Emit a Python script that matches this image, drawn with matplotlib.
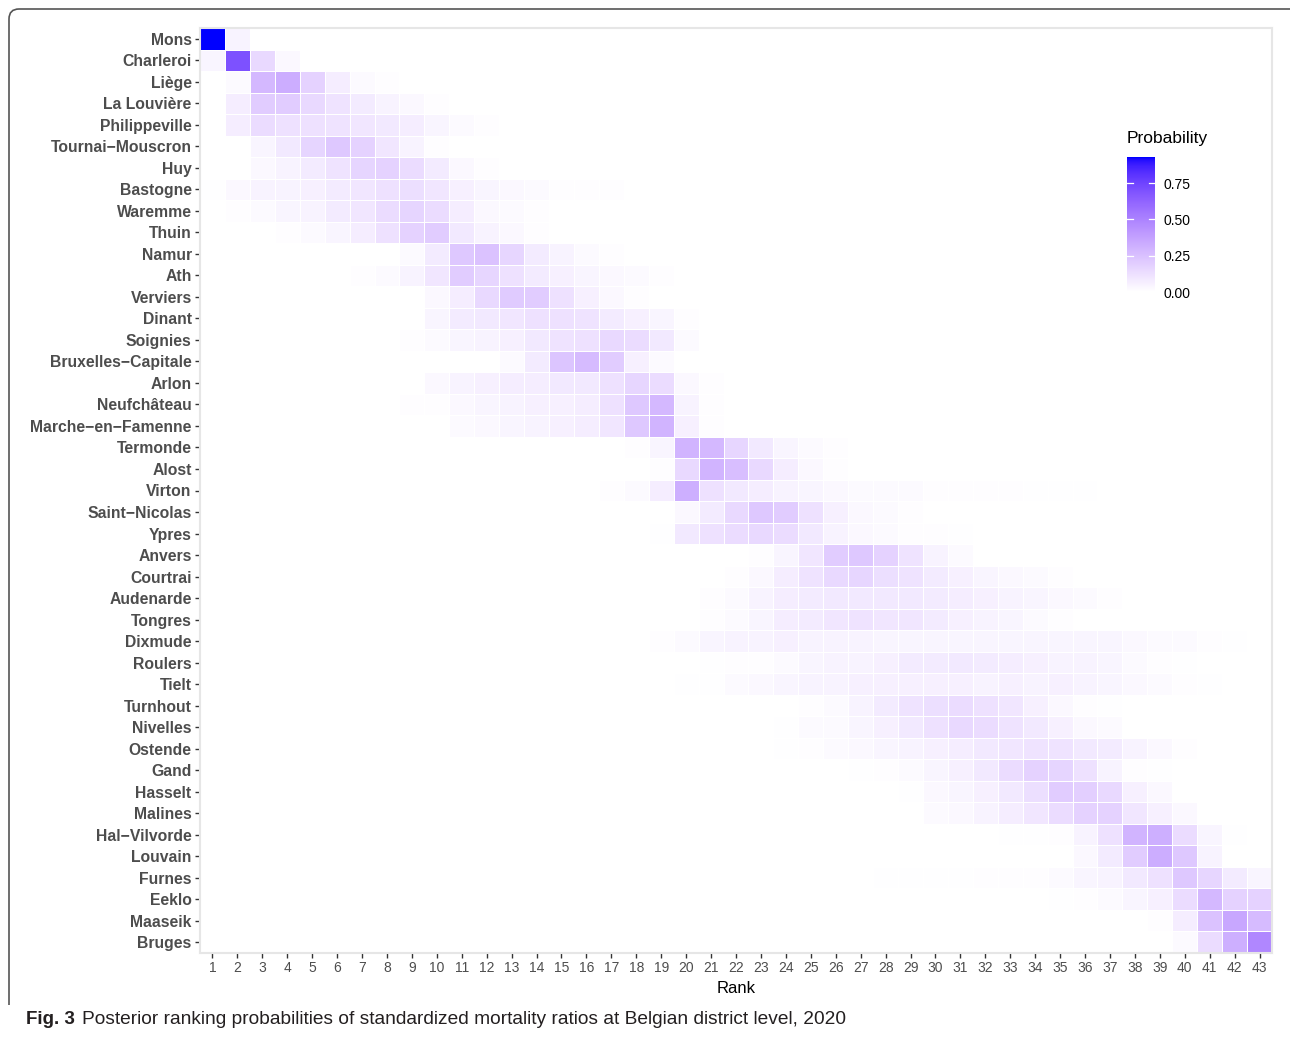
import numpy as np
import matplotlib
matplotlib.use("Agg")
import matplotlib.pyplot as plt
from matplotlib.colors import ListedColormap
from matplotlib.path import Path
from matplotlib.patches import PathPatch

plt.rcParams['font.family'] = ['Liberation Sans', 'DejaVu Sans']

# ---- data: posterior ranking probabilities (percent), each row = (first rank, values)
districts = ['Mons', 'Charleroi', 'Liège', 'La Louvière', 'Philippeville',
             'Tournai\u2212Mouscron', 'Huy', 'Bastogne', 'Waremme', 'Thuin', 'Namur',
             'Ath', 'Verviers', 'Dinant', 'Soignies', 'Bruxelles\u2212Capitale', 'Arlon',
             'Neufchâteau', 'Marche\u2212en\u2212Famenne', 'Termonde', 'Alost', 'Virton',
             'Saint\u2212Nicolas', 'Ypres', 'Anvers', 'Courtrai', 'Audenarde', 'Tongres',
             'Dixmude', 'Roulers', 'Tielt', 'Turnhout', 'Nivelles', 'Ostende', 'Gand',
             'Hasselt', 'Malines', 'Hal\u2212Vilvorde', 'Louvain', 'Furnes', 'Eeklo',
             'Maaseik', 'Bruges']
ranks = list(range(1, 44))

p_mons = (1, [93, 5])
p_charleroi = (1, [4, 70, 15, 3])
p_liege = (2, [2, 28, 33, 18, 7, 2, 1])
p_lalouviere = (2, [7, 20, 20, 15, 11, 8, 5, 3, 1])
p_philippeville = (2, [7, 14, 12, 12, 11, 10, 9, 7, 4, 2, 1])
p_tournai = (3, [4, 9, 17, 22, 18, 10, 5, 1])
p_huy = (3, [3, 5, 8, 11, 17, 18, 14, 8, 3, 1])
p_bastogne = (1, [0.5, 3, 5, 5, 6, 8, 10, 12, 13, 10, 6, 4, 3, 2, 1, 1, 1])
p_waremme = (2, [1, 2, 4, 5, 8, 10, 14, 17, 14, 7, 3, 2, 1])
p_thuin = (4, [1, 2, 4, 7, 12, 18, 20, 9, 5, 3, 1])
p_namur = (9, [2, 8, 22, 24, 16, 8, 5, 2, 1])
p_ath = (7, [1, 2, 5, 10, 20, 16, 12, 8, 6, 4, 3, 2, 1])
p_verviers = (10, [3, 7, 15, 21, 20, 12, 6, 3, 1])
p_dinant = (10, [4, 8, 9, 10, 12, 12, 11, 8, 6, 4, 1])
p_soignies = (9, [1, 2, 4, 5, 6, 9, 11, 12, 15, 14, 9, 2])
p_bruxelles = (13, [2, 8, 23, 27, 20, 6, 2])
p_arlon = (10, [3, 5, 6, 7, 7, 9, 9, 12, 16, 14, 3, 1])
p_neufchateau = (9, [1, 1, 3, 4, 5, 6, 6, 7, 12, 22, 28, 5, 1])
p_marche = (11, [2, 3, 4, 5, 6, 7, 10, 22, 30, 6, 1])
p_termonde = (18, [1, 4, 30, 28, 16, 9, 4, 2, 1])
p_alost = (19, [1, 15, 30, 26, 15, 7, 3, 1])
p_virton = (17, [1, 2, 7, 32, 12, 9, 7, 5, 4, 3, 2, 2, 2, 1, 1, 1, 1, 0.5, 0.5, 0.5])
p_saintnicolas = (20, [3, 8, 15, 22, 20, 12, 6, 3, 2, 1])
p_ypres = (19, [0.5, 9, 12, 14, 15, 14, 9, 5, 3, 2, 1, 1, 0.5])
p_anvers = (23, [1, 4, 10, 20, 22, 18, 11, 5, 2])
p_courtrai = (22, [1, 3, 7, 11, 15, 16, 13, 11, 8, 6, 4, 3, 2, 1])
p_audenarde = (21, [1, 2, 5, 7, 8, 9, 9, 9, 9, 8, 7, 6, 5, 4, 3, 2, 1])
p_tongres = (21, [1, 2, 4, 7, 8, 10, 11, 10, 10, 8, 6, 5, 4, 2, 1])
p_dixmude = (19, [1, 2, 4, 5, 5, 6, 5, 5, 5, 4, 4, 4, 4, 4, 4, 4, 4, 4, 4, 3, 2, 2, 1, 0.5])
p_roulers = (21, [0.5, 1, 1, 2, 4, 5, 5, 6, 8, 8, 9, 8, 7, 6, 5, 5, 4, 2, 1, 0.5])
p_tielt = (20, [0.5, 0.5, 2, 3, 4, 5, 5, 6, 6, 6, 6, 6, 5, 6, 5, 6, 5, 4, 3, 2, 1, 0.5])
p_turnhout = (25, [1, 2, 5, 8, 11, 13, 14, 12, 10, 6, 3, 1, 0.5])
p_nivelles = (24, [0.5, 2, 2, 4, 6, 9, 12, 15, 14, 11, 9, 6, 3, 2])
p_ostende = (24, [0.5, 1, 2, 3, 4, 5, 6, 7, 9, 10, 11, 11, 9, 8, 5, 3, 1])
p_gand = (27, [0.5, 1, 2, 4, 6, 9, 14, 18, 17, 12, 5, 1, 0.5])
p_hasselt = (29, [0.5, 3, 4, 6, 9, 13, 20, 19, 15, 6, 3])
p_malines = (30, [2, 3, 5, 7, 10, 14, 18, 18, 10, 6, 3])
p_halvilvorde = (33, [0.5, 0.5, 1, 5, 12, 30, 32, 14, 4, 0.5])
p_louvain = (36, [3, 8, 20, 33, 22, 5])
p_furnes = (28, [0.5, 0.5, 0.5, 0.5, 1, 1, 1, 2, 4, 5, 9, 12, 22, 16, 8, 4])
p_eeklo = (35, [0.5, 1, 2, 4, 6, 14, 28, 18, 18])
p_maaseik = (39, [1, 7, 24, 35, 27])
p_bruges = (40, [2, 14, 32, 48])

district_rows = [p_mons, p_charleroi, p_liege, p_lalouviere, p_philippeville, p_tournai,
                 p_huy, p_bastogne, p_waremme, p_thuin, p_namur, p_ath, p_verviers,
                 p_dinant, p_soignies, p_bruxelles, p_arlon, p_neufchateau, p_marche,
                 p_termonde, p_alost, p_virton, p_saintnicolas, p_ypres, p_anvers,
                 p_courtrai, p_audenarde, p_tongres, p_dixmude, p_roulers, p_tielt,
                 p_turnhout, p_nivelles, p_ostende, p_gand, p_hasselt, p_malines,
                 p_halvilvorde, p_louvain, p_furnes, p_eeklo, p_maaseik, p_bruges]

prob = np.zeros((len(districts), len(ranks)))
for i, (start, vals) in enumerate(district_rows):
    prob[i, start - 1:start - 1 + len(vals)] = np.array(vals) / 100.0


# ---- white -> blue gradient interpolated in Lab (like ggplot's scale_fill_gradient)
def srgb_to_lab(rgb):
    rgb = np.asarray(rgb, float)
    lin = np.where(rgb <= 0.04045, rgb / 12.92, ((rgb + 0.055) / 1.055) ** 2.4)
    M = np.array([[0.4124, 0.3576, 0.1805], [0.2126, 0.7152, 0.0722], [0.0193, 0.1192, 0.9505]])
    xyz = M @ lin / np.array([0.95047, 1.0, 1.08883])
    f = np.where(xyz > 0.008856, np.cbrt(xyz), 7.787 * xyz + 16 / 116)
    return np.array([116 * f[1] - 16, 500 * (f[0] - f[1]), 200 * (f[1] - f[2])])


def lab_to_srgb(lab):
    L, a, b = lab
    fy = (L + 16) / 116
    fx = fy + a / 500
    fz = fy - b / 200
    f = np.array([fx, fy, fz])
    xyz = np.where(f ** 3 > 0.008856, f ** 3, (f - 16 / 116) / 7.787) * np.array([0.95047, 1.0, 1.08883])
    Minv = np.array([[3.2406, -1.5372, -0.4986], [-0.9689, 1.8758, 0.0415], [0.0557, -0.2040, 1.0570]])
    lin = Minv @ xyz
    lin = np.clip(lin, 0, 1)
    rgb = np.where(lin <= 0.0031308, 12.92 * lin, 1.055 * lin ** (1 / 2.4) - 0.055)
    return np.clip(rgb, 0, 1)


lab_lo = srgb_to_lab([1, 1, 1])
lab_hi = srgb_to_lab([0, 0, 1])
cmap = ListedColormap([lab_to_srgb(lab_lo + t * (lab_hi - lab_lo)) for t in np.linspace(0, 1, 256)])

fig = plt.figure(figsize=(12.9, 10.41), dpi=100)
ax = fig.add_axes([200 / 1290, 1 - 953 / 1041, 1072 / 1290, 925 / 1041])

vmax = prob.max()
xe = np.arange(0.5, len(ranks) + 1)
ye = np.arange(0.5, len(districts) + 1)
mesh = ax.pcolormesh(xe, ye, prob, cmap=cmap, vmin=0, vmax=vmax,
                     edgecolors='white', linewidth=0.7)
ax.set_xlim(0.5, len(ranks) + 0.5)
ax.set_ylim(len(districts) + 0.5, 0.5)
ax.set_xticks(ranks)
ax.set_xticklabels([str(r) for r in ranks], fontsize=10, color='#4D4D4D')
ax.set_yticks(range(1, len(districts) + 1))
ax.set_yticklabels(districts, fontsize=11.3, fontweight='bold', color='#4D4D4D')
ax.tick_params(axis='both', length=3.5, width=1, color='#333333', pad=2.5)
for s in ax.spines.values():
    s.set_color('#E6E6E6')
    s.set_linewidth(1.5)
ax.set_xlabel('Rank', fontsize=12, color='black', labelpad=4)

# ---- colour bar legend
cax = fig.add_axes([1127 / 1290, 1 - 292 / 1041, 28 / 1290, 135 / 1041])
cb = fig.colorbar(mesh, cax=cax)
cb.outline.set_visible(False)
cb.set_ticks([0, 0.25, 0.5, 0.75])
cb.set_ticklabels(['0.00', '0.25', '0.50', '0.75'])
cax.tick_params(length=0, labelsize=10, pad=6)
for v in [0.25, 0.5, 0.75]:
    cax.plot([0, 0.2], [v, v], color='white', lw=0.9, transform=cax.get_yaxis_transform())
    cax.plot([0.8, 1], [v, v], color='white', lw=0.9, transform=cax.get_yaxis_transform())
fig.text(1127 / 1290, 1 - 139 / 1041, 'Probability', fontsize=12.5, va='center', ha='left')

# ---- page frame and caption
W, H = 1290, 1041
r = 10
verts = [(W, H - 9), (9 + r, H - 9), (9, H - 9), (9, H - 9 - r), (9, H - 1005)]
codes = [Path.MOVETO, Path.LINETO, Path.CURVE3, Path.CURVE3, Path.LINETO]
verts = [(x / W, y / H) for x, y in verts]
fig.patches.append(PathPatch(Path(verts, codes), transform=fig.transFigure,
                             facecolor='none', edgecolor='#555555', lw=1.2))

fig.text(26 / W, 1 - 1019 / H, 'Fig. 3', fontsize=13.5, fontweight='bold',
         va='center', ha='left', color='#231F20')
fig.text(82 / W, 1 - 1019 / H,
         'Posterior ranking probabilities of standardized mortality ratios at Belgian district level, 2020',
         fontsize=13.8, va='center', ha='left', color='#231F20')

fig.savefig('out.png', dpi=100, facecolor='white')
